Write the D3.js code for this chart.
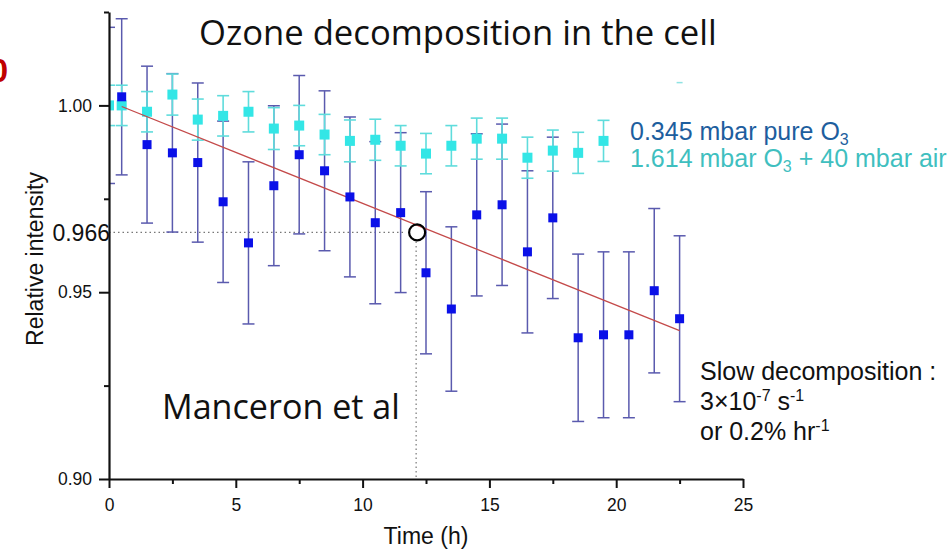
<!DOCTYPE html>
<html>
<head>
<meta charset="utf-8">
<script src="https://cdn.jsdelivr.net/npm/d3@7/dist/d3.min.js"></script>
<style>
  html, body { margin: 0; padding: 0; background: #fff; }
  svg { display: block; }
</style>
</head>
<body>
<svg id="chart" width="952" height="550"></svg>
<script>
// Relative O3 intensity in the cell over time
const blueHours = [0, 0.5, 1.5, 2.5, 3.5, 4.5, 5.5, 6.5, 7.5, 8.5, 9.5, 10.5, 11.5, 12.5, 13.5, 14.5, 15.5, 16.5, 17.5, 18.5, 19.5, 20.5, 21.5, 22.5];
const blueValues = [1.000, 1.0023, 0.9895, 0.9873, 0.9847, 0.9742, 0.9632, 0.9785, 0.9868, 0.9825, 0.9755, 0.9686, 0.9713, 0.9552, 0.9455, 0.9707, 0.9734, 0.9608, 0.9699, 0.9378, 0.9386, 0.9386, 0.9504, 0.9429];
const blueErrors = [0.0209, 0.0209, 0.0210, 0.0212, 0.0213, 0.0216, 0.0217, 0.0214, 0.0212, 0.0214, 0.0214, 0.0217, 0.0214, 0.0217, 0.0220, 0.0217, 0.0216, 0.0217, 0.0216, 0.0224, 0.0222, 0.0222, 0.0220, 0.0222];

const cyanHours = [0, 0.5, 1.5, 2.5, 3.5, 4.5, 5.5, 6.5, 7.5, 8.5, 9.5, 10.5, 11.5, 12.5, 13.5, 14.5, 15.5, 16.5, 17.5, 18.5, 19.5];
const cyanValues = [1.0000, 1.0000, 0.9983, 1.0029, 0.9962, 0.9972, 0.9983, 0.9938, 0.9946, 0.9922, 0.9905, 0.9908, 0.9892, 0.9871, 0.9892, 0.9911, 0.9911, 0.9860, 0.9879, 0.9873, 0.9905];
const cyanErrors = [0.0054, 0.0054, 0.0054, 0.0055, 0.0055, 0.0054, 0.0054, 0.0056, 0.0054, 0.0054, 0.0056, 0.0055, 0.0054, 0.0054, 0.0054, 0.0055, 0.0055, 0.0055, 0.0055, 0.0055, 0.0055];
// lone upper cap left over from a later cyan measurement
const strayCapHours = [22.5];
const strayCapValues = [1.0061];

// linear fit of the pure-O3 series
const fitHours = [0.5, 22.5];
const fitValues = [0.9997, 0.9397];

// read-off point on the fit
const crossHour = 12.15;
const crossValue = 0.966;

const xTicks = [0, 2.5, 5, 7.5, 10, 12.5, 15, 17.5, 20, 22.5, 25];
const xLabels = [0, 5, 10, 15, 20, 25];
const yTicks = [0.90, 0.925, 0.95, 0.975, 1.00, 1.025];
const yLabels = [0.90, 0.95, 1.00];

const blueData = blueHours.map((h, i) => ({ h, v: blueValues[i], e: blueErrors[i] }));
const cyanData = cyanHours.map((h, i) => ({ h, v: cyanValues[i], e: cyanErrors[i] }));

const svg = d3.select("#chart");
const plot = { left: 109, right: 743, top: 12, bottom: 479 };

const x = d3.scaleLinear().domain([0, 25]).range([plot.left, plot.right]);
const y = d3.scaleLinear().domain([0.90, 1.025]).range([plot.bottom, plot.top]);

const ARIAL = "'Liberation Sans', Arial, sans-serif";
const ROUND = "'Open Sans', 'Noto Sans', sans-serif";

svg.append("defs").append("clipPath").attr("id", "plotClip")
  .append("rect")
  .attr("x", plot.left).attr("y", 0)
  .attr("width", plot.right - plot.left + 20).attr("height", plot.bottom);

const g = svg.append("g").attr("clip-path", "url(#plotClip)");

// dotted read-off guides
g.append("line")
  .attr("x1", x(0)).attr("x2", x(crossHour) - 14)
  .attr("y1", y(crossValue)).attr("y2", y(crossValue))
  .attr("stroke", "#777").attr("stroke-width", 1.2).attr("stroke-dasharray", "1.5,3");
g.append("line")
  .attr("x1", x(crossHour) - 1).attr("x2", x(crossHour) - 1)
  .attr("y1", y(crossValue) + 9).attr("y2", y(0.90))
  .attr("stroke", "#777").attr("stroke-width", 1.2).attr("stroke-dasharray", "1.5,3");

function errorBars(sel, data, color, capW, width) {
  const eg = sel.append("g").attr("stroke", color).attr("stroke-width", width).attr("fill", "none");
  eg.selectAll("line.stem").data(data).join("line").attr("class", "stem")
    .attr("x1", d => x(d.h)).attr("x2", d => x(d.h))
    .attr("y1", d => y(d.v + d.e)).attr("y2", d => y(d.v - d.e));
  eg.selectAll("line.capTop").data(data).join("line").attr("class", "capTop")
    .attr("x1", d => x(d.h) - capW / 2).attr("x2", d => x(d.h) + capW / 2)
    .attr("y1", d => y(d.v + d.e)).attr("y2", d => y(d.v + d.e));
  eg.selectAll("line.capBot").data(data).join("line").attr("class", "capBot")
    .attr("x1", d => x(d.h) - capW / 2).attr("x2", d => x(d.h) + capW / 2)
    .attr("y1", d => y(d.v - d.e)).attr("y2", d => y(d.v - d.e));
}

errorBars(g, blueData, "#5a5aae", 12, 1.5);
errorBars(g, cyanData, "#5fdcdc", 12, 1.6);

g.selectAll("line.stray").data(strayCapHours).join("line").attr("class", "stray")
  .attr("x1", (d) => x(d) - 3).attr("x2", (d) => x(d) + 3)
  .attr("y1", (d, i) => y(strayCapValues[i])).attr("y2", (d, i) => y(strayCapValues[i]))
  .attr("stroke", "#8fe3e3").attr("stroke-width", 1.5);

const cyanSize = 10;
g.selectAll("rect.cyan").data(cyanData).join("rect").attr("class", "cyan")
  .attr("x", d => x(d.h) - cyanSize / 2).attr("y", d => y(d.v) - cyanSize / 2)
  .attr("width", cyanSize).attr("height", cyanSize)
  .attr("fill", "#33e6e6");

// fit line
g.append("line")
  .attr("x1", x(fitHours[0])).attr("y1", y(fitValues[0]))
  .attr("x2", x(fitHours[1])).attr("y2", y(fitValues[1]))
  .attr("stroke", "#c44a4a").attr("stroke-width", 1.3);

const blueSize = 9;
g.selectAll("rect.blue").data(blueData.filter(d => d.h > 0)).join("rect").attr("class", "blue")
  .attr("x", d => x(d.h) - blueSize / 2).attr("y", d => y(d.v) - blueSize / 2)
  .attr("width", blueSize).attr("height", blueSize)
  .attr("fill", "#0a10e8");

// marker circle on the fit
svg.append("circle")
  .attr("cx", x(crossHour)).attr("cy", y(crossValue))
  .attr("r", 8)
  .attr("fill", "none").attr("stroke", "#000").attr("stroke-width", 2.2);

// axes
const xAxis = d3.axisBottom(x).tickValues(xTicks)
  .tickFormat(d => xLabels.includes(d) ? d : "")
  .tickSize(9).tickSizeOuter(0).tickPadding(6);
const xg = svg.append("g").attr("transform", `translate(0,${plot.bottom})`).call(xAxis);
xg.selectAll(".tick line").filter(d => !xLabels.includes(d)).attr("y2", 5);

const yAxis = d3.axisLeft(y).tickValues(yTicks)
  .tickFormat(d => yLabels.some(v => Math.abs(v - d) < 1e-9) ? d.toFixed(2) : "")
  .tickSize(10).tickSizeOuter(0).tickPadding(7);
const yg = svg.append("g").attr("transform", `translate(${plot.left},0)`).call(yAxis);
yg.selectAll(".tick line").filter(d => !yLabels.some(v => Math.abs(v - d) < 1e-9)).attr("x2", -5);

[xg, yg].forEach(a => {
  a.select(".domain").attr("stroke", "#111").attr("stroke-width", 2.2);
  a.selectAll(".tick line").attr("stroke", "#111").attr("stroke-width", 2);
  a.selectAll(".tick text").attr("fill", "#111")
    .style("font-family", ARIAL).style("font-size", "17.5px");
});
xg.selectAll(".tick text").attr("dy", "0.95em");

// stated read-off value
svg.append("text")
  .attr("x", plot.left + 1).attr("y", y(crossValue)).attr("dy", "0.36em")
  .attr("text-anchor", "end")
  .style("font-family", ARIAL).style("font-size", "23px").attr("fill", "#111")
  .text(d3.format(".3f")(crossValue));

// axis titles
svg.append("text")
  .attr("transform", `translate(43,259) rotate(-90)`)
  .attr("text-anchor", "middle")
  .style("font-family", ARIAL).style("font-size", "23px").attr("fill", "#111")
  .text("Relative intensity");
svg.append("text")
  .attr("x", x(12.5)).attr("y", 544)
  .attr("text-anchor", "middle")
  .style("font-family", ARIAL).style("font-size", "23px").attr("fill", "#111")
  .text("Time (h)");

// title and credit
function fitText(sel, width) {
  const w = sel.node().getComputedTextLength();
  const fs = parseFloat(sel.style("font-size"));
  sel.style("font-size", (fs * width / w) + "px");
}
const title = svg.append("text")
  .attr("x", 199).attr("y", 45)
  .style("font-family", ROUND).style("font-size", "31px").attr("fill", "#111")
  .text("Ozone decomposition in the cell");
fitText(title, 518);
const credit = svg.append("text")
  .attr("x", 162).attr("y", 419)
  .style("font-family", ROUND).style("font-size", "32px").attr("fill", "#111")
  .text("Manceron et al");
fitText(credit, 238);

// clipped red digit on the left edge
svg.append("text")
  .attr("x", 8).attr("y", 82).attr("text-anchor", "end")
  .style("font-family", ARIAL).style("font-size", "33px").style("font-weight", "bold")
  .attr("fill", "#c00000")
  .text("0");

// legend
const legend = svg.append("g").style("font-family", ARIAL).style("font-size", "25px");
const l1 = legend.append("text").attr("x", 630).attr("y", 140).attr("fill", "#1d5e9e");
l1.append("tspan").text("0.345 mbar pure O");
l1.append("tspan").attr("dy", 5).style("font-size", "16px").text("3");
const l2 = legend.append("text").attr("x", 630).attr("y", 167).attr("fill", "#3fbfbf");
l2.append("tspan").text("1.614 mbar O");
l2.append("tspan").attr("dy", 5).style("font-size", "16px").text("3");
l2.append("tspan").attr("dy", -5).text(" + 40 mbar air");

// rate note
const note = svg.append("g").style("font-family", ARIAL).style("font-size", "25px").attr("fill", "#111");
note.append("text").attr("x", 700).attr("y", 380).text("Slow decomposition :");
const n2 = note.append("text").attr("x", 700).attr("y", 410);
n2.append("tspan").text("3×10");
n2.append("tspan").attr("dy", -9).style("font-size", "16px").text("-7");
n2.append("tspan").attr("dy", 9).text(" s");
n2.append("tspan").attr("dy", -9).style("font-size", "16px").text("-1");
const n3 = note.append("text").attr("x", 700).attr("y", 440);
n3.append("tspan").text("or 0.2% hr");
n3.append("tspan").attr("dy", -9).style("font-size", "16px").text("-1");
</script>
</body>
</html>
